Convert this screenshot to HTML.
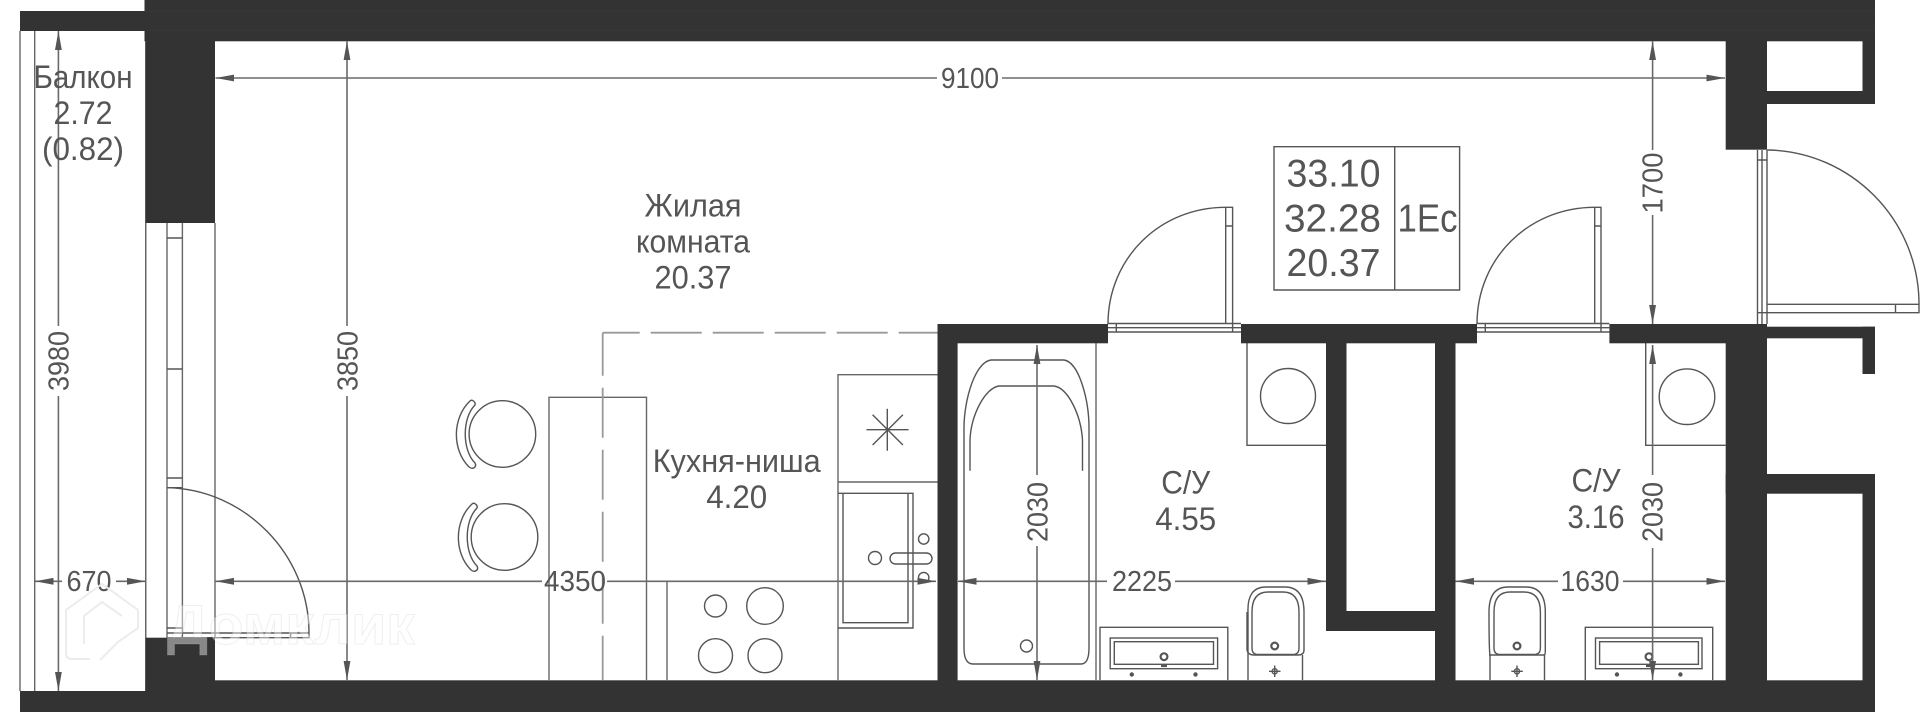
<!DOCTYPE html>
<html lang="ru">
<head>
<meta charset="utf-8">
<title>Планировка</title>
<style>
html,body{margin:0;padding:0;background:#fff;}
svg{display:block;}
text{font-family:"Liberation Sans","Noto Sans CJK SC",sans-serif;fill:#555;text-anchor:middle;}
.t{font-size:32px;}
.d{font-size:28.5px;}
.b{font-size:38.5px;}
.l{fill:none;stroke:#666;stroke-width:1.4;}
.k{fill:none;stroke:#555;stroke-width:1.4;}
.dim{fill:none;stroke:#6a6a6a;stroke-width:1.6;}
.a{fill:#555;stroke:none;}
.w{fill:#333;stroke:none;}
</style>
</head>
<body>
<svg width="1920" height="712" viewBox="0 0 1920 712" xmlns="http://www.w3.org/2000/svg">
<rect width="1920" height="712" fill="#fff"/>

<!-- balcony -->
<path class="l" d="M20 31V691M34.7 31V691M145.7 31V691"/>

<!-- window -->
<path class="l" d="M145.7 223V638M215 223V638M167 223V638M182.4 223V638"/>
<path class="k" d="M167 238H182.4M167 369H182.4M167 478H182.4M167 487.7H182.4M167 628H182.4M167 633H309M167 637.7H309V632.7M290.6 633V637.7"/>
<path class="k" d="M167 487.7C245 489 309 555 309 632.7"/>

<!-- table -->
<path class="l" d="M549 680V397.3H646.5V680M667 581V680"/>

<!-- kitchen -->
<path class="l" d="M838 680V374.7H937.5M838 482H937.5"/>
<path class="k" d="M838 493.3H913V628H838M843 493.3V622.7H908V493.3"/>
<path class="k" d="M866.5 429.7H908.6M887.3 408.7V450.7M872.6 414.7L902.9 445M902.9 414.7L872.6 445"/>
<circle class="k" cx="875" cy="558" r="6.5"/>
<rect class="k" x="890" y="553" width="42" height="11" rx="5.5"/>
<circle class="k" cx="923.7" cy="539" r="5.2"/>
<circle class="k" cx="923.7" cy="577.6" r="5.2"/>
<circle class="k" cx="715.5" cy="606" r="11"/>
<circle class="k" cx="765" cy="606" r="18.3"/>
<circle class="k" cx="715.5" cy="655.7" r="17"/>
<circle class="k" cx="765" cy="655.7" r="17"/>

<!-- chairs -->
<circle class="k" cx="502.4" cy="434" r="33.3"/>
<path class="k" d="M470 401C472 399 476 402 475 405C462 418 462 450 475 463C477 467 473 470 469 467C452 450 452 418 470 401Z"/>
<circle class="k" cx="504.5" cy="537" r="33.3"/>
<path class="k" d="M472 504C474 502 478 505 477 508C464 521 464 553 477 566C479 570 475 573 471 570C454 553 454 521 472 504Z"/>

<!-- dashed kitchen boundary -->
<path d="M602.7 332.7H937.5" fill="none" stroke="#999" stroke-width="1.8" stroke-dasharray="51 11" stroke-dashoffset="14"/>
<path d="M602.7 332.7V680" fill="none" stroke="#999" stroke-width="1.8" stroke-dasharray="50 12" stroke-dashoffset="7"/>

<!-- bath -->
<path class="k" d="M991 360H1064C1079 362 1089 400 1089 428V648Q1089 664 1081 664H973Q964 664 964 648V428C964 400 975 362 991 360Z"/>
<path class="k" d="M970 470.7V440C971 415 985 388 999 386H1054C1068 388 1081 415 1082.5 440V470.7"/>
<circle class="k" cx="1026.5" cy="646" r="6"/>
<path class="l" d="M1096 343V680"/>

<!-- bath 1 fixtures -->
<path class="k" d="M1247 343V445.3H1326"/>
<circle class="k" cx="1288" cy="396" r="27.5"/>
<path class="k" d="M1100 680V627.3H1227.8V680"/>
<rect class="k" x="1110.2" y="638" width="107.4" height="30.7"/>
<rect class="k" x="1114.3" y="641.7" width="99.2" height="22.6"/>
<circle cx="1164" cy="656.7" r="3.4" fill="none" stroke="#555" stroke-width="2.2"/>
<rect class="a" x="1161" y="664.5" width="6" height="2.6"/>
<circle cx="1131.8" cy="674.5" r="2.2" class="a"/>
<circle cx="1195.5" cy="674.5" r="2.2" class="a"/>
<path class="k" d="M1248 680V612Q1247 587 1266 587H1285Q1304 587 1304 612V650Q1304 655 1298 655H1254Q1248 655 1247 650V612"/>
<path class="k" d="M1252 648V612Q1252 592 1268 592H1283Q1299 592 1299 612V648Q1299 654.5 1293 654.5H1258Q1252 654.5 1252 648Z"/>
<path class="k" d="M1302.5 655V680"/>
<circle cx="1274.7" cy="646" r="3.4" fill="none" stroke="#555" stroke-width="2.2"/>
<circle class="k" cx="1274.7" cy="671.3" r="2.6"/>
<path class="k" d="M1269 671.3H1280.5M1274.7 665.5V677"/>

<!-- bath 2 fixtures -->
<path class="k" d="M1645.7 343V445.3H1725.7"/>
<circle class="k" cx="1687" cy="396.7" r="27.8"/>
<path class="k" d="M1585.3 680V627.3H1712.7V680"/>
<rect class="k" x="1595.5" y="638" width="106.5" height="30.7"/>
<rect class="k" x="1599.6" y="641.7" width="98.8" height="22.6"/>
<circle cx="1649" cy="656.7" r="3.4" fill="none" stroke="#555" stroke-width="2.2"/>
<rect class="a" x="1646" y="664.5" width="6" height="2.6"/>
<circle cx="1617" cy="674.5" r="2.2" class="a"/>
<circle cx="1680.4" cy="674.5" r="2.2" class="a"/>
<path class="k" d="M1490 680V655Q1489 650 1489 612Q1489 587 1508 587H1526Q1545.3 587 1545.3 612V650Q1545.3 655 1544.5 655V680"/>
<path class="k" d="M1494 648V612Q1494 592 1510 592H1524Q1540.4 592 1540.4 612V648Q1540.4 654.5 1534 654.5H1500Q1494 654.5 1494 648Z"/>
<path class="k" d="M1489 655H1545"/>
<circle cx="1517" cy="646" r="3.4" fill="none" stroke="#555" stroke-width="2.2"/>
<circle class="k" cx="1517" cy="671.3" r="2.6"/>
<path class="k" d="M1511.3 671.3H1522.8M1517 665.5V677"/>

<!-- doors -->
<path class="k" d="M1108 323.5H1241M1108 327.7H1241M1108 332H1241M1116.3 324V332M1232.6 324V332"/>
<path class="k" d="M1225.7 324V207.3H1232.6V324M1225.7 226H1232.6"/>
<path class="k" d="M1108 324C1108 258 1160 207.3 1225.7 207.3"/>
<path class="k" d="M1477 323.5H1609.4M1477 327.7H1609.4M1477 332H1609.4M1485.3 324V332M1601 324V332"/>
<path class="k" d="M1594.7 324V207.3H1601V324M1594.7 226H1601"/>
<path class="k" d="M1477 324C1477 258 1529 207.3 1594.7 207.3"/>
<path class="k" d="M1757.5 150V324M1762 150V324M1767 150V324M1757.5 160H1767M1757.5 312.7H1767"/>
<path class="k" d="M1767 304.3H1919V312.7H1767M1895.5 304.3V312.7"/>
<path class="k" d="M1767 150C1851 151 1919 220 1919 304.3"/>

<!-- walls -->
<rect class="w" x="144.5" y="0" width="1730.5" height="41.3"/>
<rect class="w" x="20" y="11" width="126" height="20"/>
<rect class="w" x="145.7" y="30" width="69.3" height="193"/>
<rect class="w" x="145.7" y="637.7" width="69.3" height="60"/>
<rect class="w" x="20" y="691" width="1855" height="21"/>
<rect class="w" x="145.7" y="680.3" width="1729.3" height="12"/>
<rect class="w" x="937.5" y="324" width="170.5" height="19.3"/>
<rect class="w" x="1241" y="324" width="236" height="19.3"/>
<rect class="w" x="1609.4" y="324" width="157.6" height="19.3"/>
<rect class="w" x="1767" y="326.7" width="108" height="11.6"/>
<rect class="w" x="1862.5" y="326.7" width="12.5" height="47.3"/>
<rect class="w" x="937.5" y="324" width="20.1" height="357"/>
<rect class="w" x="1326" y="343" width="20.5" height="288"/>
<rect class="w" x="1326" y="611" width="129.5" height="20"/>
<rect class="w" x="1435" y="343" width="20.5" height="338"/>
<rect class="w" x="1725.7" y="338" width="41.3" height="343"/>
<rect class="w" x="1725.7" y="41" width="41.3" height="108.7"/>
<rect class="w" x="1767" y="91" width="108" height="13"/>
<rect class="w" x="1862.5" y="41" width="12.5" height="63"/>
<rect class="w" x="1725.7" y="474" width="149.3" height="19.7"/>
<rect class="w" x="1862.5" y="474" width="12.5" height="207"/>
<path d="M145 11.3H1875M145 30.3H1875" stroke="#393939" stroke-width="1" fill="none"/>

<!-- info box -->
<path class="k" d="M1274 146.7H1459.6V290H1274ZM1394.7 146.7V290"/>
<text class="b" x="1333.5" y="186.7" textLength="94" lengthAdjust="spacingAndGlyphs">33.10</text>
<text class="b" x="1332.5" y="231.7" textLength="97" lengthAdjust="spacingAndGlyphs">32.28</text>
<text class="b" x="1333.5" y="276" textLength="94" lengthAdjust="spacingAndGlyphs">20.37</text>
<text class="b" x="1427.5" y="231.7" textLength="60" lengthAdjust="spacingAndGlyphs">1Ec</text>

<!-- dimensions -->
<path class="dim" d="M58.4 31V326M58.4 396V691"/>
<polygon class="a" points="58.4,31 55,50 61.8,50"/><polygon class="a" points="58.4,691 55,672 61.8,672"/>
<text class="d" transform="rotate(-90 68.5 361)" x="68.5" y="361" textLength="60" lengthAdjust="spacingAndGlyphs">3980</text>

<path class="dim" d="M347 41.3V326M347 396V680"/>
<polygon class="a" points="347,41.3 343.6,60 350.4,60"/><polygon class="a" points="347,680 343.6,661 350.4,661"/>
<text class="d" transform="rotate(-90 357.5 361)" x="357.5" y="361" textLength="60" lengthAdjust="spacingAndGlyphs">3850</text>

<path class="dim" d="M215.5 78H937M1002 78H1725"/>
<polygon class="a" points="215.5,78 234,74.6 234,81.4"/><polygon class="a" points="1725,78 1706.5,74.6 1706.5,81.4"/>
<text class="d" x="970" y="88" textLength="58" lengthAdjust="spacingAndGlyphs">9100</text>

<path class="dim" d="M35 581.3H62M116 581.3H145.7"/>
<polygon class="a" points="35,581.3 53.5,577.9 53.5,584.7"/><polygon class="a" points="145.7,581.3 127,577.9 127,584.7"/>
<text class="d" x="89" y="591" textLength="45" lengthAdjust="spacingAndGlyphs">670</text>

<path class="dim" d="M215.5 581.3H542M607 581.3H936"/>
<polygon class="a" points="215.5,581.3 234,577.9 234,584.7"/><polygon class="a" points="936,581.3 917.5,577.9 917.5,584.7"/>
<text class="d" x="575" y="591" textLength="62" lengthAdjust="spacingAndGlyphs">4350</text>

<path class="dim" d="M958 581.3H1107M1175 581.3H1326"/>
<polygon class="a" points="958,581.3 976.5,577.9 976.5,584.7"/><polygon class="a" points="1326,581.3 1307.5,577.9 1307.5,584.7"/>
<text class="d" x="1142" y="591" textLength="60" lengthAdjust="spacingAndGlyphs">2225</text>

<path class="dim" d="M1455.5 581.3H1558M1623 581.3H1725"/>
<polygon class="a" points="1455.5,581.3 1474,577.9 1474,584.7"/><polygon class="a" points="1725,581.3 1706.5,577.9 1706.5,584.7"/>
<text class="d" x="1590" y="591" textLength="59" lengthAdjust="spacingAndGlyphs">1630</text>

<path class="dim" d="M1652.6 41.3V150M1652.6 215V324"/>
<polygon class="a" points="1652.6,41.3 1649.2,60 1656,60"/><polygon class="a" points="1652.6,324 1649.2,305 1656,305"/>
<text class="d" transform="rotate(-90 1662.5 183)" x="1662.5" y="183" textLength="61" lengthAdjust="spacingAndGlyphs">1700</text>

<path class="dim" d="M1037 345V475M1037 546V680"/>
<polygon class="a" points="1037,345 1033.6,364 1040.4,364"/><polygon class="a" points="1037,680 1033.6,661 1040.4,661"/>
<text class="d" transform="rotate(-90 1047.5 512)" x="1047.5" y="512" textLength="60" lengthAdjust="spacingAndGlyphs">2030</text>

<path class="dim" d="M1652.6 345V475M1652.6 548V680"/>
<polygon class="a" points="1652.6,345 1649.2,364 1656,364"/><polygon class="a" points="1652.6,680 1649.2,661 1656,661"/>
<text class="d" transform="rotate(-90 1662.5 512)" x="1662.5" y="512" textLength="60" lengthAdjust="spacingAndGlyphs">2030</text>

<!-- room labels -->
<text class="t" x="83" y="88" textLength="99" lengthAdjust="spacingAndGlyphs">Балкон</text>
<text class="t" x="83" y="124" textLength="59" lengthAdjust="spacingAndGlyphs">2.72</text>
<text class="t" x="83" y="160" textLength="82" lengthAdjust="spacingAndGlyphs">(0.82)</text>
<text class="t" x="693" y="216.7" textLength="97" lengthAdjust="spacingAndGlyphs">Жилая</text>
<text class="t" x="693" y="252.7" textLength="114" lengthAdjust="spacingAndGlyphs">комната</text>
<text class="t" x="693" y="288.7" textLength="77" lengthAdjust="spacingAndGlyphs">20.37</text>
<text class="t" x="736.7" y="472" textLength="168" lengthAdjust="spacingAndGlyphs">Кухня-ниша</text>
<text class="t" x="736.7" y="508" textLength="61" lengthAdjust="spacingAndGlyphs">4.20</text>
<text class="t" x="1185.7" y="493.7" textLength="49" lengthAdjust="spacingAndGlyphs">С/У</text>
<text class="t" x="1185.7" y="530" textLength="61" lengthAdjust="spacingAndGlyphs">4.55</text>
<text class="t" x="1596" y="491.7" textLength="49" lengthAdjust="spacingAndGlyphs">С/У</text>
<text class="t" x="1596" y="528" textLength="57" lengthAdjust="spacingAndGlyphs">3.16</text>

<!-- watermark -->
<path d="M90 659H72Q66 659 66 653V610L102 584L138 610V628L118 642M118 642L100 660M84 644V616L102 602L122 616" fill="none" stroke="#ececec" stroke-width="2"/>
<text x="291" y="644" textLength="248" lengthAdjust="spacingAndGlyphs" style="font-size:56px;font-weight:bold;fill:rgba(255,255,255,.42);stroke:rgba(190,190,190,.25);stroke-width:1">Домклик</text>
</svg>
</body>
</html>
